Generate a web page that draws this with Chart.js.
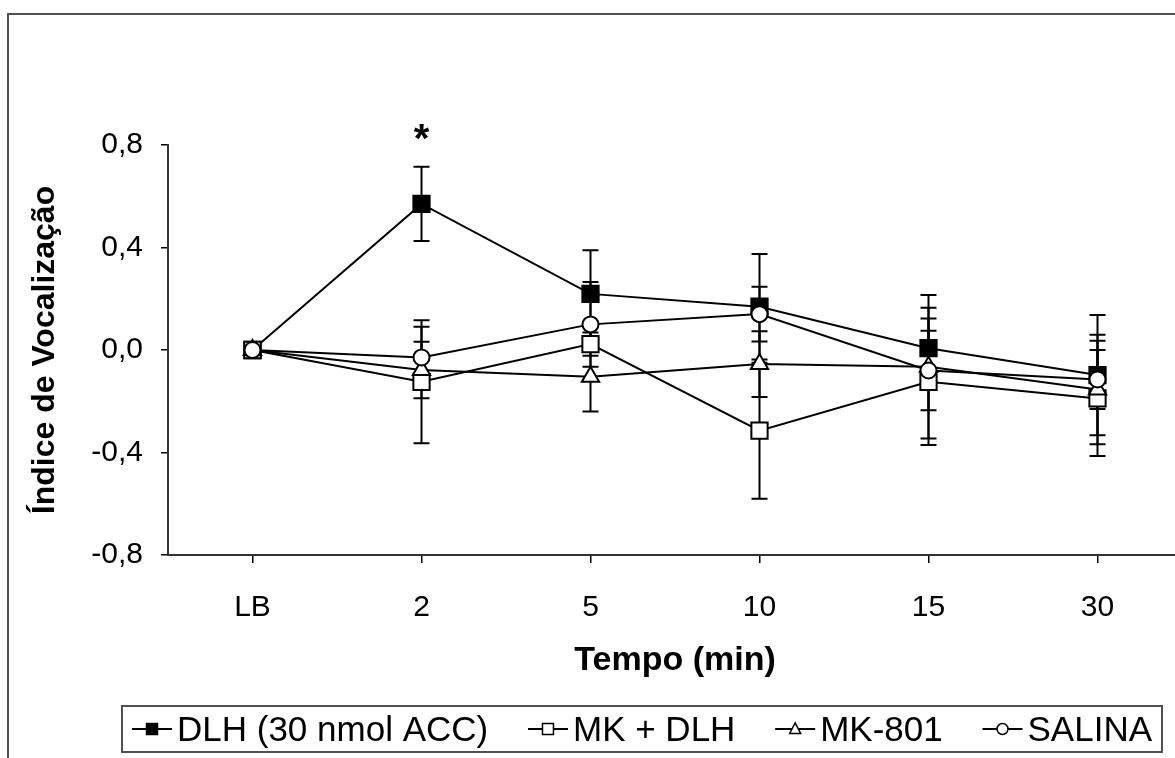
<!DOCTYPE html>
<html>
<head>
<meta charset="utf-8">
<script src="https://cdn.jsdelivr.net/npm/chart.js@4.4.0/dist/chart.umd.min.js"></script>
<style>
  html, body { margin: 0; padding: 0; background: #fff; overflow: hidden; }
  #frame { position: absolute; left: 7px; top: 13px; width: 1250px; height: 800px; border: 2px solid #505050; }
  canvas { display: block; }
</style>
</head>
<body>
<div id="frame"><canvas id="chart" width="1240" height="745"></canvas></div>
<script>
var FONT = '"Liberation Sans", Arial, sans-serif'

// Tempo (min)
var categories = ['LB', '2', '5', '10', '15', '30']
var yTickValues = [-0.8, -0.4, 0, 0.4, 0.8]

// media e erro padrao
var dlhMean = [0, 0.57, 0.219, 0.169, 0.007, -0.098]
var dlhErr = [0, 0.145, 0.17, 0.206, 0.158, 0.235]
var mkDlhMean = [0, -0.124, 0.023, -0.315, -0.124, -0.189]
var mkDlhErr = [0, 0.24, 0.045, 0.265, 0.247, 0.225]
var mk801Mean = [0, -0.078, -0.104, -0.055, -0.065, -0.154]
var mk801Err = [0, 0.11, 0.136, 0.128, 0.28, 0.214]
var salinaMean = [0, -0.029, 0.10, 0.14, -0.08, -0.115]
var salinaErr = [0, 0.12, 0.165, 0.107, 0.155, 0.115]

// significance mark above a point of the DLH series
var starIndex = 1

function fmt(v) {
  if (Math.abs(v) < 1e-9) v = 0
  return v.toFixed(1).replace('.', ',')
}

// vertical error bars, drawn under the markers
var errorBars = {
  id: 'errorBars',
  beforeDatasetsDraw(chart) {
    var ctx = chart.ctx
    var xs = chart.scales.x, ys = chart.scales.y
    ctx.save()
    ctx.strokeStyle = '#000'
    ctx.lineWidth = 2
    chart.data.datasets.forEach(function(ds) {
      ds.data.forEach(function(v, i) {
        var e = ds.errors[i]
        if (!e) return
        var px = xs.getPixelForValue(i)
        var top = ys.getPixelForValue(v + e)
        var bot = ys.getPixelForValue(v - e)
        ctx.beginPath()
        ctx.moveTo(px, top); ctx.lineTo(px, bot)
        ctx.moveTo(px - 8, top); ctx.lineTo(px + 8, top)
        ctx.moveTo(px - 8, bot); ctx.lineTo(px + 8, bot)
        ctx.stroke()
      })
    })
    ctx.restore()
  },
  afterDatasetsDraw(chart) {
    var ctx = chart.ctx
    var xs = chart.scales.x, ys = chart.scales.y
    var px = xs.getPixelForValue(starIndex)
    var py = ys.getPixelForValue(dlhMean[starIndex] + dlhErr[starIndex])
    ctx.save()
    ctx.fillStyle = '#000'
    ctx.font = 'bold 40px ' + FONT
    ctx.textAlign = 'center'
    ctx.textBaseline = 'alphabetic'
    ctx.fillText('*', px, py - 15)
    ctx.restore()
  }
}

function drawMarker(ctx, style, x, y, r, fill) {
  ctx.beginPath()
  if (style === 'rect') {
    ctx.rect(x - r, y - r, 2 * r, 2 * r)
  } else if (style === 'triangle') {
    ctx.moveTo(x, y - r * 1.1)
    ctx.lineTo(x + r, y + r * 0.8)
    ctx.lineTo(x - r, y + r * 0.8)
    ctx.closePath()
  } else {
    ctx.arc(x, y, r, 0, Math.PI * 2)
  }
  ctx.fillStyle = fill
  ctx.fill()
  ctx.stroke()
}

// Excel-like legend: a box with line + marker samples, spread over the box
var boxLegend = {
  id: 'boxLegend',
  afterDraw(chart) {
    var ctx = chart.ctx
    var area = chart.chartArea
    var left = area.left - 46, right = area.right - 20
    var top = 691, bottom = 737
    var cy = (top + bottom) / 2
    ctx.save()
    ctx.strokeStyle = '#505050'
    ctx.lineWidth = 2
    ctx.strokeRect(left, top, right - left, bottom - top)

    ctx.font = '35px ' + FONT
    var lineLen = 40, gapText = 5, pad = 10
    var dss = chart.data.datasets
    var widths = dss.map(function(ds) {
      return lineLen + gapText + ctx.measureText(ds.label).width
    })
    var total = widths.reduce(function(a, b) { return a + b }, 0)
    var gapItem = Math.max(10, (right - left - 2 * pad - total) / (dss.length - 1))
    var x = left + (right - left - total - gapItem * (dss.length - 1)) / 2
    ctx.textBaseline = 'middle'
    ctx.textAlign = 'left'
    dss.forEach(function(ds, i) {
      ctx.strokeStyle = '#000'
      ctx.lineWidth = 2
      ctx.beginPath()
      ctx.moveTo(x, cy); ctx.lineTo(x + lineLen, cy)
      ctx.stroke()
      ctx.lineWidth = 1.5
      drawMarker(ctx, ds.pointStyle, x + lineLen / 2, cy, 5.5, ds.pointBackgroundColor)
      ctx.fillStyle = '#000'
      ctx.fillText(ds.label, x + lineLen + gapText, cy + 2)
      x += widths[i] + gapItem
    })
    ctx.restore()
  }
}

function series(label, mean, err, style, radius, fill, order) {
  return {
    label: label,
    data: mean,
    errors: err,
    order: order,
    borderColor: '#000',
    borderWidth: 2,
    tension: 0,
    pointStyle: style,
    pointRadius: radius,
    pointHoverRadius: radius,
    pointBorderWidth: 2,
    pointBorderColor: '#000',
    pointBackgroundColor: fill
  }
}

new Chart(document.getElementById('chart'), {
  type: 'line',
  data: {
    labels: categories,
    datasets: [
      series('DLH (30 nmol ACC)', dlhMean, dlhErr, 'rect', 11.5, '#000', 4),
      series('MK + DLH', mkDlhMean, mkDlhErr, 'rect', 11.5, '#fff', 3),
      series('MK-801', mk801Mean, mk801Err, 'triangle', 10, '#fff', 2),
      series('SALINA', salinaMean, salinaErr, 'circle', 8, '#fff', 1)
    ]
  },
  options: {
    responsive: false,
    animation: false,
    events: [],
    layout: {
      padding: { left: 0, right: 67, top: 130, bottom: 79 }
    },
    plugins: {
      legend: { display: false },
      tooltip: { enabled: false }
    },
    scales: {
      x: {
        offset: true,
        afterFit: function(scale) { scale.height = 126 },
        grid: { drawOnChartArea: false, drawTicks: true, tickLength: 8, color: '#000', lineWidth: 1.5 },
        border: { display: true, color: '#333', width: 2 },
        ticks: { color: '#000', padding: 27, font: { family: FONT, size: 30 } },
        title: {
          display: true, text: 'Tempo (min)', color: '#000',
          padding: { top: 0, bottom: 0 },
          font: { family: FONT, size: 34, weight: 'bold' }
        }
      },
      y: {
        min: -0.8,
        max: 0.8,
        afterBuildTicks: function(scale) {
          scale.ticks = yTickValues.map(function(v) { return { value: v } })
        },
        afterFit: function(scale) { scale.width = 159 },
        grid: { drawOnChartArea: false, drawTicks: true, tickLength: 7, color: '#000', lineWidth: 1.5 },
        border: { display: true, color: '#333', width: 2 },
        ticks: {
          color: '#000', padding: 18,
          font: { family: FONT, size: 30 },
          callback: function(v) { return fmt(v) }
        },
        title: {
          display: true, text: 'Índice de Vocalização', color: '#000',
          padding: { top: 17, bottom: 0 },
          font: { family: FONT, size: 32, weight: 'bold' }
        }
      }
    }
  },
  plugins: [errorBars, boxLegend]
})
</script>
</body>
</html>
